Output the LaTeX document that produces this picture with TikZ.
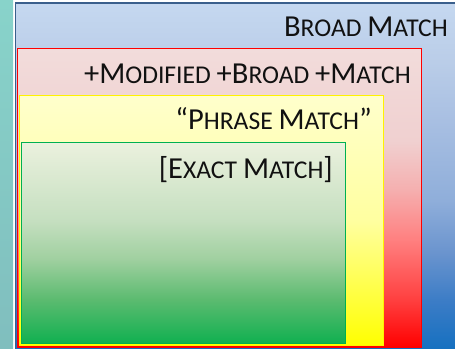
\documentclass[tikz,border=0pt]{standalone}
\usepackage{fontspec}
\setmainfont{Carlito}
\definecolor{tealtop}{HTML}{88D3CA}
\definecolor{tealbot}{HTML}{80BEBE}
\definecolor{blueline}{HTML}{3A5F8C}
\definecolor{greenline}{HTML}{00B050}
\definecolor{txt}{HTML}{111111}
\pgfdeclareverticalshading{blueshade}{100bp}{color(0bp)=(rgb,255:red,21;green,112;blue,192); color(25bp)=(rgb,255:red,21;green,112;blue,192); color(32bp)=(rgb,255:red,59;green,124;blue,198); color(39bp)=(rgb,255:red,106;green,148;blue,206); color(46.5bp)=(rgb,255:red,143;green,174;blue,218); color(58bp)=(rgb,255:red,168;green,191;blue,226); color(66.5bp)=(rgb,255:red,186;green,205;blue,232); color(75bp)=(rgb,255:red,197;green,216;blue,240); color(100bp)=(rgb,255:red,197;green,216;blue,240)}
\pgfdeclareverticalshading{redshade}{100bp}{color(0bp)=(rgb,255:red,255;green,0;blue,0); color(25bp)=(rgb,255:red,255;green,0;blue,0); color(33bp)=(rgb,255:red,255;green,64;blue,64); color(43bp)=(rgb,255:red,255;green,128;blue,128); color(51.5bp)=(rgb,255:red,245;green,176;blue,176); color(59.5bp)=(rgb,255:red,240;green,208;blue,208); color(75bp)=(rgb,255:red,242;green,220;blue,219); color(100bp)=(rgb,255:red,242;green,220;blue,219)}
\pgfdeclareverticalshading{yellowshade}{100bp}{color(0bp)=(rgb,255:red,255;green,255;blue,0); color(25bp)=(rgb,255:red,255;green,255;blue,0); color(50bp)=(rgb,255:red,255;green,255;blue,160); color(75bp)=(rgb,255:red,255;green,255;blue,204); color(100bp)=(rgb,255:red,255;green,255;blue,204)}
\pgfdeclareverticalshading{greenshade}{100bp}{color(0bp)=(rgb,255:red,16;green,176;blue,80); color(25bp)=(rgb,255:red,16;green,176;blue,80); color(36bp)=(rgb,255:red,92;green,187;blue,112); color(46bp)=(rgb,255:red,160;green,208;blue,160); color(55.5bp)=(rgb,255:red,197;green,223;blue,192); color(75bp)=(rgb,255:red,235;green,241;blue,222); color(100bp)=(rgb,255:red,235;green,241;blue,222)}
\newcommand\Lg[1]{{\fontsize{30.5}{32}\selectfont #1}}
\newcommand\Sm[1]{{\fontsize{25.6}{27}\selectfont #1}}
\begin{document}
\begin{tikzpicture}[x=1pt,y=-1pt,
  lbl/.style={anchor=base east,inner sep=0pt,text=txt}]
\useasboundingbox (0,0) rectangle (455,348);
\clip (0,0) rectangle (455,348);
\fill[white] (0,0) rectangle (455,348);
\shade[top color=tealtop,bottom color=tealbot] (0,0) rectangle (13,348);
\shade[shading=blueshade,draw=blueline,line width=1.5pt] (15.5,3) rectangle (470,350);
\shade[shading=redshade,draw=red,line width=1.5pt] (17.5,48.5) rectangle (421.5,347);
\shade[shading=yellowshade,draw=yellow,line width=1.5pt] (19.5,95.5) rectangle (383.5,345.5);
\shade[shading=greenshade,draw=greenline,line width=1pt] (21.5,142) rectangle (345,343.5);
\node[lbl] (broad) at (448,36.5) {\Lg{B}\Sm{ROAD }\Lg{M}\Sm{ATCH}};
\node[lbl] (modified) at (411,83) {\Lg{+M}\Sm{ODIFIED }\Lg{+B}\Sm{ROAD }\Lg{+M}\Sm{ATCH}};
\node[lbl] (phrase) at (372,129) {\Lg{“P}\Sm{HRASE }\Lg{M}\Sm{ATCH}\Lg{”}};
\node[lbl] (exact) at (333,178) {\Lg{[E}\Sm{XACT }\Lg{M}\Sm{ATCH}\Lg{]}};
\end{tikzpicture}
\end{document}
